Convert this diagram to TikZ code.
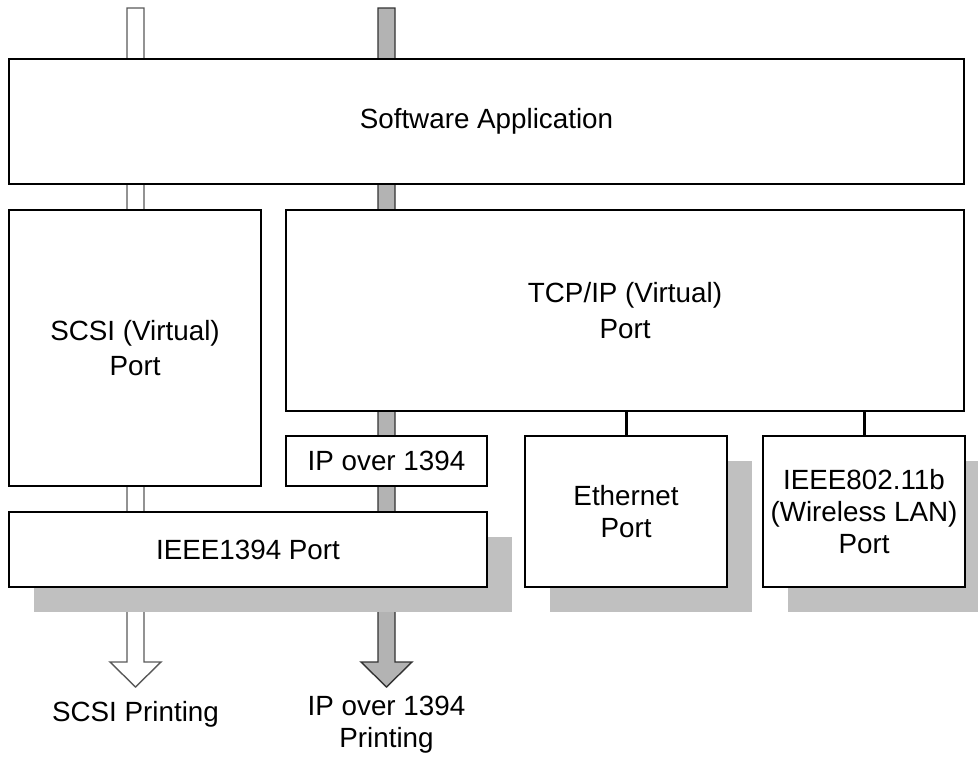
\documentclass[tikz,border=0pt]{standalone}
\usepackage{fontspec}
\setmainfont{Liberation Sans}
\usetikzlibrary{calc,shadows}

\definecolor{shadowgray}{HTML}{C0C0C0}
\definecolor{pipegray}{HTML}{B3B3B3}

\tikzset{
    layer/.style={draw=black, line width=2.3pt, fill=white, align=center,
        inner sep=0pt, font=\fontsize{27.8}{32}\selectfont},
    shadowed/.style={drop shadow={shadow xshift=25pt, shadow yshift=-25pt,
        fill=shadowgray, opacity=1}},
    scsipipe/.style={draw=black!65, line width=1.4pt, fill=white},
    ippipe/.style={draw=black!80, line width=1.4pt, fill=pipegray},
    link/.style={line width=3pt},
    caption/.style={align=center, anchor=base, font=\fontsize{27.8}{32}\selectfont}
}

\begin{document}
\begin{tikzpicture}[x=1pt,y=-1pt]
        \useasboundingbox (0,0) rectangle (978,756);

        \coordinate (scsitop) at (135.5,8);
        \coordinate (scsitip) at (135.5,687);
        \coordinate (iptop) at (386.5,8);
        \coordinate (iptip) at (386.5,687);

        \draw[scsipipe] ($(scsitop)+(-8.5,0)$) -- ($(scsitop)+(8.5,0)$) -- ($(scsitip)+(8.5,-25)$)
            -- ($(scsitip)+(25.5,-25)$) -- (scsitip) -- ($(scsitip)+(-25.5,-25)$)
            -- ($(scsitip)+(-8.5,-25)$) -- cycle;
        \draw[ippipe] ($(iptop)+(-8.5,0)$) -- ($(iptop)+(8.5,0)$) -- ($(iptip)+(8.5,-25)$)
            -- ($(iptip)+(25.5,-25)$) -- (iptip) -- ($(iptip)+(-25.5,-25)$)
            -- ($(iptip)+(-8.5,-25)$) -- cycle;

        \node[layer, minimum width=955, minimum height=125] (app) at (486.5,121.5) {Software Application};
        \node[layer, minimum width=252, minimum height=276] (scsi) at (135,348) {SCSI (Virtual)\\[3pt]Port};
        \node[layer, minimum width=678, minimum height=201] (tcpip) at (625,310.5) {TCP/IP (Virtual)\\[4pt]Port};
        \node[layer, minimum width=201, minimum height=50] (ipover) at (386.5,461) {IP over 1394};
        \node[layer, shadowed, minimum width=478, minimum height=75] (ieee) at (248,549.5) {IEEE1394 Port};
        \node[layer, shadowed, minimum width=202, minimum height=151] (eth) at (626,511.5) {Ethernet\\Port};
        \node[layer, shadowed, minimum width=202, minimum height=151] (wlan) at (864,511.5) {IEEE802.11b\\(Wireless LAN)\\Port};

        \draw[link] (eth.north) -- (eth.north |- tcpip.south);
        \draw[link] (wlan.north) -- (wlan.north |- tcpip.south);

        \node[caption] (scsiprint) at (135.5,721) {SCSI Printing};
        \node[caption] (ipprint) at (386.5,747) {IP over 1394\\Printing};

\end{tikzpicture}
\end{document}
